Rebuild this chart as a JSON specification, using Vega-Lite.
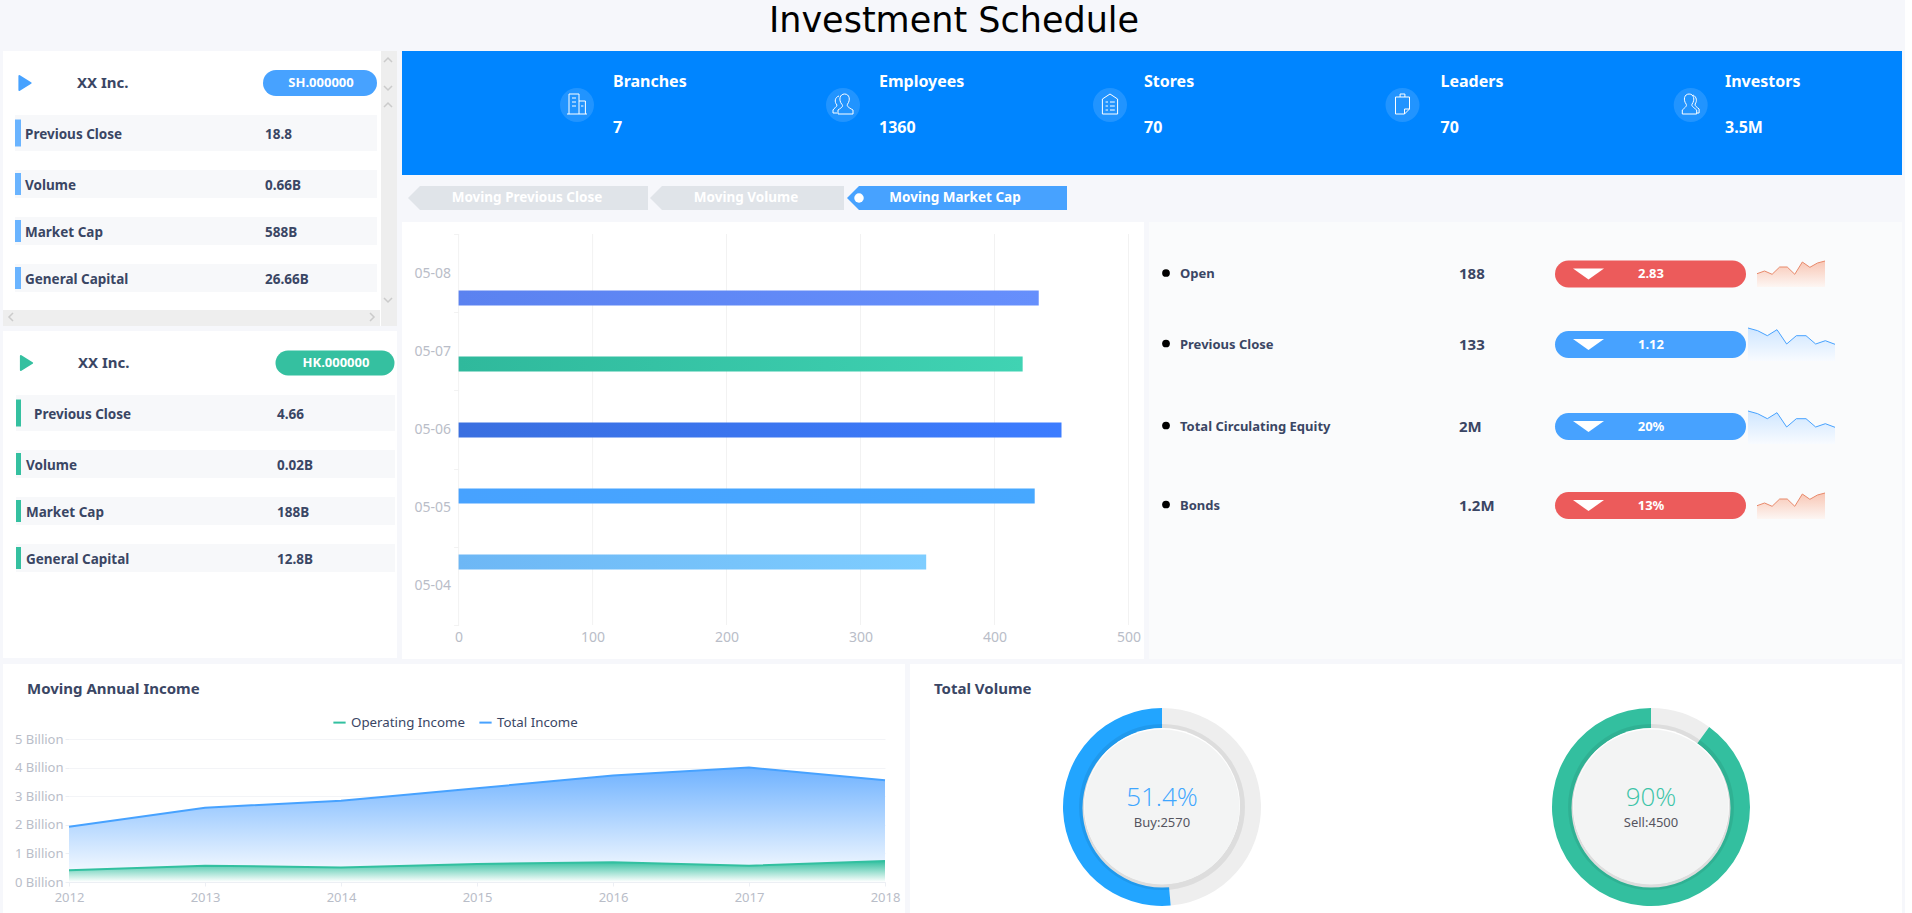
{
"$schema":"https://vega.github.io/schema/vega-lite/v6.json",
"padding":{"left":3,"top":0,"right":0,"bottom":0},
"background":"#f6f7fb",
"config":{"view":{"stroke":null},"font":"Noto Sans","text":{"font":"Noto Sans"},"axis":{"labelFont":"Noto Sans"},"legend":{"labelFont":"Noto Sans"}},
"spacing":5,
"resolve":{"scale":{"color":"independent","shape":"independent"}},
"vconcat":[
{"width":1902,"height":46,"data":{"values":[{"title":"Investment Schedule"}]},
 "mark":{"type":"text","font":"DejaVu Sans","fontSize":35,"color":"#000000","baseline":"middle","dy":-2},
 "encoding":{"text":{"field":"title"}}},
{"spacing":5,"resolve":{"scale":{"color":"independent","shape":"independent"}},"hconcat":[
 {"spacing":5,"resolve":{"scale":{"color":"independent","shape":"independent"}},"vconcat":[
  {"width":394,"height":275,"view":{"fill":"#ffffff","stroke":null},
   "data":{"values":[{"row":1,"item":"Previous Close","value":"18.8"},{"row":2,"item":"Volume","value":"0.66B"},{"row":3,"item":"Market Cap","value":"588B"},{"row":4,"item":"General Capital","value":"26.66B"}]},
   "layer":[
    {"data":{"values":[{"part":"vertical track"}]},"mark":{"type":"rect","color":"#eeeeee"},"encoding":{"x":{"datum":13,"type":"quantitative","scale":{"domain":[0,1,2,3,4,5,6,7,8,9,10,11,12,13,14,15],"range":[0,8,12,18,22,74,262,273,318,361,369,374,377,378,385,394],"nice":false,"zero":false},"axis":null},"x2":{"datum":15},"y":{"datum":-2,"type":"quantitative","scale":{"domain":[-2,-1,0,0.2,0.5,1,2,3,4,4.5,5,6,7],"range":[0,9,32,37,54,83,134,181,228,249,259,266,275],"nice":false,"zero":false},"axis":null},"y2":{"datum":7}}},
    {"data":{"values":[{"part":"horizontal track"}]},"mark":{"type":"rect","color":"#eeeeee"},"encoding":{"x":{"datum":0,"type":"quantitative","axis":null},"x2":{"datum":12},"y":{"datum":5,"type":"quantitative","axis":null},"y2":{"datum":7}}},
    {"data":{"values":[{"dir":"up","col":14,"row":-1},{"dir":"down","col":14,"row":0.2},{"dir":"up","col":14,"row":0.5},{"dir":"down","col":14,"row":4.5},{"dir":"left","col":1,"row":6},{"dir":"right","col":10,"row":6}]},
     "mark":{"type":"point","filled":false,"clip":true,"size":64,"strokeWidth":1.5,"color":"#bdbdbd"},
     "encoding":{"x":{"field":"col","type":"quantitative","axis":null},"y":{"field":"row","type":"quantitative","axis":null},"shape":{"field":"dir","type":"nominal","legend":null,"scale":{"domain":["up","down","left","right"],"range":["M-1,0.5L0,-0.5L1,0.5","M-1,-0.5L0,0.5L1,-0.5","M0.5,-1L-0.5,0L0.5,1","M-0.5,-1L0.5,0L-0.5,1"]}}}},
    {"transform":[{"filter":"datum.row==1"}],"mark":{"type":"rule","clip":true,"strokeWidth":36,"color":"#f7f8fa","yOffset":-1},"encoding":{"x":{"datum":2,"type":"quantitative","axis":null},"x2":{"datum":11},"y":{"field":"row","type":"quantitative","axis":null}}},
    {"transform":[{"filter":"datum.row>1"}],"mark":{"type":"rule","clip":true,"strokeWidth":28,"color":"#f7f8fa","yOffset":-1},"encoding":{"x":{"datum":2,"type":"quantitative","axis":null},"x2":{"datum":11},"y":{"field":"row","type":"quantitative","axis":null}}},
    {"transform":[{"filter":"datum.row==1"}],"mark":{"type":"rule","clip":true,"strokeWidth":27,"color":"#6ab4ff","yOffset":-1},"encoding":{"x":{"datum":2,"type":"quantitative","axis":null},"x2":{"datum":3},"y":{"field":"row","type":"quantitative","axis":null}}},
    {"transform":[{"filter":"datum.row>1"}],"mark":{"type":"rule","clip":true,"strokeWidth":22,"color":"#6ab4ff","yOffset":-1},"encoding":{"x":{"datum":2,"type":"quantitative","axis":null},"x2":{"datum":3},"y":{"field":"row","type":"quantitative","axis":null}}},
    {"mark":{"type":"text","align":"left","baseline":"middle","dy":1,"fontSize":13.5,"fontWeight":"bold","color":"#3a4664"},"encoding":{"x":{"datum":4,"type":"quantitative","axis":null},"y":{"field":"row","type":"quantitative","axis":null},"text":{"field":"item"}}},
    {"mark":{"type":"text","align":"left","baseline":"middle","dy":1,"fontSize":13.5,"fontWeight":"bold","color":"#3a4664"},"encoding":{"x":{"datum":6,"type":"quantitative","axis":null},"y":{"field":"row","type":"quantitative","axis":null},"text":{"field":"value"}}},
    {"data":{"values":[{"row":0,"company":"XX Inc.","code":"SH.000000"}]},"layer":[
      {"mark":{"type":"point","clip":true,"shape":"M-0.8,-1L0.8,0L-0.8,1Z","size":196,"filled":true,"opacity":1,"color":"#47a2ff","stroke":"#47a2ff","strokeWidth":2,"strokeJoin":"round"},"encoding":{"x":{"datum":4,"type":"quantitative","axis":null},"y":{"field":"row","type":"quantitative","axis":null}}},
      {"mark":{"type":"text","align":"left","baseline":"middle","fontSize":15,"fontWeight":"bold","color":"#3a4664"},"encoding":{"x":{"datum":5,"type":"quantitative","axis":null},"y":{"field":"row","type":"quantitative","axis":null},"text":{"field":"company"}}},
      {"mark":{"type":"rule","clip":true,"strokeWidth":26,"strokeCap":"round","color":"#47a2ff"},"encoding":{"x":{"datum":7,"type":"quantitative","axis":null},"x2":{"datum":9},"y":{"field":"row","type":"quantitative","axis":null}}},
      {"mark":{"type":"text","align":"center","baseline":"middle","fontSize":13,"fontWeight":"bold","color":"#ffffff"},"encoding":{"x":{"datum":8,"type":"quantitative","axis":null},"y":{"field":"row","type":"quantitative","axis":null},"text":{"field":"code"}}}
    ]}
   ]},
  {"width":394,"height":327,"view":{"fill":"#ffffff","stroke":null},
   "data":{"values":[{"row":1,"item":"Previous Close","value":"4.66"},{"row":2,"item":"Volume","value":"0.02B"},{"row":3,"item":"Market Cap","value":"188B"},{"row":4,"item":"General Capital","value":"12.8B"}]},
   "layer":[
    {"transform":[{"filter":"datum.row==1"}],"mark":{"type":"rule","clip":true,"strokeWidth":36,"color":"#f7f8fa","yOffset":-1},"encoding":{"x":{"datum":0,"type":"quantitative","scale":{"domain":[0,1,2,3,4,5,6,7,8,9,10],"range":[13,18,23,23.5,31,75,274,285,333,379,392],"nice":false,"zero":false},"axis":null},"x2":{"datum":10},"y":{"field":"row","type":"quantitative","scale":{"domain":[0,1,2,3,4],"range":[32,83,134,181,228],"nice":false,"zero":false},"axis":null}}},
    {"transform":[{"filter":"datum.row>1"}],"mark":{"type":"rule","clip":true,"strokeWidth":28,"color":"#f7f8fa","yOffset":-1},"encoding":{"x":{"datum":0,"type":"quantitative","axis":null},"x2":{"datum":10},"y":{"field":"row","type":"quantitative","axis":null}}},
    {"transform":[{"filter":"datum.row==1"}],"mark":{"type":"rule","clip":true,"strokeWidth":27,"color":"#35c0a0","yOffset":-1},"encoding":{"x":{"datum":0,"type":"quantitative","axis":null},"x2":{"datum":1},"y":{"field":"row","type":"quantitative","axis":null}}},
    {"transform":[{"filter":"datum.row>1"}],"mark":{"type":"rule","clip":true,"strokeWidth":22,"color":"#35c0a0","yOffset":-1},"encoding":{"x":{"datum":0,"type":"quantitative","axis":null},"x2":{"datum":1},"y":{"field":"row","type":"quantitative","axis":null}}},
    {"transform":[{"filter":"datum.row==1"}],"mark":{"type":"text","align":"left","baseline":"middle","dy":1,"fontSize":13.5,"fontWeight":"bold","color":"#3a4664"},"encoding":{"x":{"datum":4,"type":"quantitative","axis":null},"y":{"field":"row","type":"quantitative","axis":null},"text":{"field":"item"}}},
    {"transform":[{"filter":"datum.row>1"}],"mark":{"type":"text","align":"left","baseline":"middle","dy":1,"fontSize":13.5,"fontWeight":"bold","color":"#3a4664"},"encoding":{"x":{"datum":2,"type":"quantitative","axis":null},"y":{"field":"row","type":"quantitative","axis":null},"text":{"field":"item"}}},
    {"mark":{"type":"text","align":"left","baseline":"middle","dy":1,"fontSize":13.5,"fontWeight":"bold","color":"#3a4664"},"encoding":{"x":{"datum":6,"type":"quantitative","axis":null},"y":{"field":"row","type":"quantitative","axis":null},"text":{"field":"value"}}},
    {"data":{"values":[{"row":0,"company":"XX Inc.","code":"HK.000000"}]},"layer":[
      {"mark":{"type":"point","clip":true,"shape":"M-0.8,-1L0.8,0L-0.8,1Z","size":196,"filled":true,"opacity":1,"color":"#35c0a0","stroke":"#35c0a0","strokeWidth":2,"strokeJoin":"round"},"encoding":{"x":{"datum":3,"type":"quantitative","axis":null},"y":{"field":"row","type":"quantitative","axis":null}}},
      {"mark":{"type":"text","align":"left","baseline":"middle","fontSize":15,"fontWeight":"bold","color":"#3a4664"},"encoding":{"x":{"datum":5,"type":"quantitative","axis":null},"y":{"field":"row","type":"quantitative","axis":null},"text":{"field":"company"}}},
      {"mark":{"type":"rule","clip":true,"strokeWidth":25,"strokeCap":"round","color":"#35c0a0"},"encoding":{"x":{"datum":7,"type":"quantitative","axis":null},"x2":{"datum":9},"y":{"field":"row","type":"quantitative","axis":null}}},
      {"mark":{"type":"text","align":"center","baseline":"middle","fontSize":13,"fontWeight":"bold","color":"#ffffff"},"encoding":{"x":{"datum":8,"type":"quantitative","axis":null},"y":{"field":"row","type":"quantitative","axis":null},"text":{"field":"code"}}}
    ]}
   ]}
 ]},
 {"spacing":5,"resolve":{"scale":{"color":"independent","shape":"independent"}},"vconcat":[
 {"spacing":11,"resolve":{"scale":{"color":"independent","shape":"independent"}},"vconcat":[
  {"width":1500,"height":124,"view":{"fill":"#0085ff","stroke":null},
   "data":{"values":[
    {"kpi":"Branches","col":0,"line":"title","text":"Branches"},{"kpi":"Branches","col":0,"line":"count","text":"7"},
    {"kpi":"Employees","col":1,"line":"title","text":"Employees"},{"kpi":"Employees","col":1,"line":"count","text":"1360"},
    {"kpi":"Stores","col":2,"line":"title","text":"Stores"},{"kpi":"Stores","col":2,"line":"count","text":"70"},
    {"kpi":"Leaders","col":3,"line":"title","text":"Leaders"},{"kpi":"Leaders","col":3,"line":"count","text":"70"},
    {"kpi":"Investors","col":4,"line":"title","text":"Investors"},{"kpi":"Investors","col":4,"line":"count","text":"3.5M"}]},
   "resolve":{"scale":{"x":"independent"}},
   "layer":[
    {"transform":[{"filter":"datum.line=='title'"}],"layer":[
     {"mark":{"type":"point","filled":true,"size":1156,"color":"#ffffff","opacity":0.13},"encoding":{"x":{"field":"col","type":"quantitative","scale":{"domain":[0,1,2,3,4],"range":[175,441,708,1000.5,1288.7],"nice":false,"zero":false},"axis":null},"y":{"datum":"icon","type":"nominal","scale":{"type":"point","domain":["title","icon","count"],"range":[31,77],"padding":0},"axis":null}}},
     {"mark":{"type":"point","filled":false,"size":1600,"strokeWidth":1,"color":"#ffffff","opacity":1,"yOffset":-1},"encoding":{"x":{"field":"col","type":"quantitative","axis":null},"y":{"datum":"icon","type":"nominal","axis":null},
       "shape":{"field":"kpi","type":"nominal","legend":null,"scale":{"domain":["Branches","Employees","Stores","Leaders","Investors"],"range":[
        "M-0.5,0.5L0.5,0.5M-0.4,0.5L-0.4,-0.5L0.1,-0.5L0.1,0.5M0.1,-0.15L0.42,-0.15L0.42,0.5M-0.25,-0.3L-0.05,-0.3M-0.25,-0.1L-0.05,-0.1M-0.25,0.1L-0.05,0.1M0.2,0.1L0.32,0.1",
        "M0.08,-0.5C0.33,-0.5 0.38,-0.2 0.23,0C0.18,0.1 0.23,0.15 0.5,0.3L0.5,0.5L-0.25,0.5L-0.25,0.3C-0.02,0.15 0.03,0.1 -0.07,0C-0.22,-0.2 -0.17,-0.5 0.08,-0.5ZM-0.2,-0.4C-0.4,-0.35 -0.45,-0.1 -0.3,0.05C-0.3,0.15 -0.45,0.2 -0.5,0.3L-0.5,0.45L-0.3,0.45",
        "M-0.38,-0.25L0,-0.5L0.38,-0.25L0.38,0.5L-0.38,0.5ZM-0.22,-0.1L-0.1,-0.1M0,-0.1L0.24,-0.1M-0.22,0.1L-0.1,0.1M0,0.1L0.24,0.1M-0.22,0.3L-0.1,0.3M0,0.3L0.24,0.3",
        "M-0.35,-0.35L0.35,-0.35L0.35,0.25L0.1,0.5L-0.35,0.5ZM-0.12,-0.35L-0.12,-0.5L0.12,-0.5L0.12,-0.35M0.35,0.25L0.1,0.25L0.1,0.5",
        "M-0.08,-0.5C0.17,-0.5 0.22,-0.2 0.07,0C0.02,0.1 0.12,0.15 0.3,0.3L0.3,0.5L-0.42,0.5L-0.42,0.3C-0.25,0.15 -0.18,0.1 -0.23,0C-0.38,-0.2 -0.33,-0.5 -0.08,-0.5ZM0.12,-0.45C0.3,-0.35 0.33,-0.15 0.22,0C0.2,0.1 0.3,0.15 0.42,0.25L0.42,0.45L0.3,0.45"]}}}}
    ]},
    {"mark":{"type":"text","align":"left","baseline":"middle","fontSize":16,"fontWeight":"bold","color":"#ffffff"},
     "encoding":{"x":{"field":"col","type":"quantitative","scale":{"domain":[0,1,2,3,4],"range":[211,477,742,1038.5,1323],"nice":false,"zero":false},"axis":null},"y":{"field":"line","type":"nominal","axis":null},"text":{"field":"text"}}}
   ]},
  {"width":1500,"height":24,
   "data":{"values":[
    {"tab":"Moving Previous Close","start":0,"mid":1,"end":2,"state":"idle"},
    {"tab":"Moving Volume","start":3,"mid":4,"end":5,"state":"idle"},
    {"tab":"Moving Market Cap","start":6,"mid":7,"end":8,"state":"active"}]},
   "layer":[
    {"mark":{"type":"rect"},"encoding":{"x":{"field":"start","type":"quantitative","scale":{"domain":[0,1,2,3,4,5,6,7,8],"range":[18,125,246,260,344,442,457,553,665],"nice":false,"zero":false},"axis":null},"x2":{"field":"end"},"color":{"field":"state","type":"nominal","legend":null,"scale":{"domain":["idle","active"],"range":["#e0e4e9","#47a2ff"]}}}},
    {"mark":{"type":"point","clip":true,"filled":true,"opacity":1,"size":576,"shape":"M0,-1L-1,0L0,1Z"},"encoding":{"x":{"field":"start","type":"quantitative","axis":null},"color":{"field":"state","type":"nominal","legend":null}}},
    {"transform":[{"filter":"datum.state=='active'"}],"mark":{"type":"point","filled":true,"opacity":1,"size":90,"color":"#ffffff"},"encoding":{"x":{"field":"start","type":"quantitative","axis":null}}},
    {"mark":{"type":"text","clip":true,"fontSize":13.5,"fontWeight":"bold","color":"#ffffff","baseline":"middle"},"encoding":{"x":{"field":"mid","type":"quantitative","axis":null},"text":{"field":"tab"}}}
   ]}
 ]},
  {"spacing":5,"resolve":{"scale":{"color":"independent","shape":"independent"}},"hconcat":[
   {"width":742,"height":437,"view":{"fill":"#ffffff","stroke":null},
    "data":{"values":[{"date":"05-08","value":433},{"date":"05-07","value":421},{"date":"05-06","value":450},{"date":"05-05","value":430},{"date":"05-04","value":349}]},
    "resolve":{"scale":{"y":"independent"}},
    "layer":[
     {"data":{"values":[{"tick":0},{"tick":100},{"tick":200},{"tick":300},{"tick":400},{"tick":500}]},"mark":{"type":"rule","color":"#f2f2f2","strokeWidth":1},"encoding":{"x":{"field":"tick","type":"quantitative","scale":{"domain":[0,500],"range":[56.6,726.5],"nice":false,"zero":false},"axis":{"title":null,"values":[0,100,200,300,400,500],"offset":-34,"domain":false,"ticks":false,"labelFlush":false,"labelPadding":5,"labelFontSize":14,"labelColor":"#b9bdc8","grid":false}},"y":{"datum":0,"type":"quantitative","scale":{"domain":[0,1],"range":[12,403],"nice":false},"axis":null},"y2":{"datum":1}}},
     {"mark":{"type":"bar","opacity":0},"encoding":{
       "x":{"field":"value","type":"quantitative","title":null},
       "y":{"field":"date","type":"nominal","scale":{"type":"band","domain":["05-08","05-07","05-06","05-05","05-04"],"range":[12,403],"paddingInner":0,"paddingOuter":0},"axis":{"title":null,"orient":"left","offset":-56.6,"domain":false,"tickBand":"extent","tickSize":5,"tickColor":"#f2f2f2","labelPadding":3,"labelFontSize":14,"labelColor":"#b9bdc8"}}}},
     {"transform":[{"filter":"datum.date=='05-08'"}],"mark":{"type":"bar","size":15,"color":{"x1":0,"y1":0,"x2":1,"y2":0,"gradient":"linear","stops":[{"offset":0,"color":"#5b82f0"},{"offset":1,"color":"#668ffc"}]}},"encoding":{"x":{"field":"value","type":"quantitative","title":null},"y":{"field":"date","type":"nominal","scale":{"type":"band","domain":["05-08","05-07","05-06","05-05","05-04"],"range":[43,373],"paddingInner":0,"paddingOuter":0},"axis":null}}},
     {"transform":[{"filter":"datum.date=='05-07'"}],"mark":{"type":"bar","size":15,"color":{"x1":0,"y1":0,"x2":1,"y2":0,"gradient":"linear","stops":[{"offset":0,"color":"#2fb99c"},{"offset":1,"color":"#40d3b3"}]}},"encoding":{"x":{"field":"value","type":"quantitative","title":null},"y":{"field":"date","type":"nominal","scale":{"type":"band","domain":["05-08","05-07","05-06","05-05","05-04"],"range":[43,373],"paddingInner":0,"paddingOuter":0},"axis":null}}},
     {"transform":[{"filter":"datum.date=='05-06'"}],"mark":{"type":"bar","size":15,"color":{"x1":0,"y1":0,"x2":1,"y2":0,"gradient":"linear","stops":[{"offset":0,"color":"#3a6fe0"},{"offset":1,"color":"#3c7cff"}]}},"encoding":{"x":{"field":"value","type":"quantitative","title":null},"y":{"field":"date","type":"nominal","scale":{"type":"band","domain":["05-08","05-07","05-06","05-05","05-04"],"range":[43,373],"paddingInner":0,"paddingOuter":0},"axis":null}}},
     {"transform":[{"filter":"datum.date=='05-05'"}],"mark":{"type":"bar","size":15,"color":{"x1":0,"y1":0,"x2":1,"y2":0,"gradient":"linear","stops":[{"offset":0,"color":"#47a2ff"},{"offset":1,"color":"#47a8ff"}]}},"encoding":{"x":{"field":"value","type":"quantitative","title":null},"y":{"field":"date","type":"nominal","scale":{"type":"band","domain":["05-08","05-07","05-06","05-05","05-04"],"range":[43,373],"paddingInner":0,"paddingOuter":0},"axis":null}}},
     {"transform":[{"filter":"datum.date=='05-04'"}],"mark":{"type":"bar","size":15,"color":{"x1":0,"y1":0,"x2":1,"y2":0,"gradient":"linear","stops":[{"offset":0,"color":"#6db7f5"},{"offset":1,"color":"#7ecdff"}]}},"encoding":{"x":{"field":"value","type":"quantitative","title":null},"y":{"field":"date","type":"nominal","scale":{"type":"band","domain":["05-08","05-07","05-06","05-05","05-04"],"range":[43,373],"paddingInner":0,"paddingOuter":0},"axis":null}}}
    ]},
   {"width":753,"height":437,"view":{"fill":"#fafbfc","stroke":null},
    "resolve":{"scale":{"x":"independent","y":"independent"}},
    "layer":[
     {"data":{"values":[{"row":0,"item":"Open","value":"188","change":"2.83","tone":"red"},{"row":1,"item":"Previous Close","value":"133","change":"1.12","tone":"blue"},{"row":2,"item":"Total Circulating Equity","value":"2M","change":"20%","tone":"blue"},{"row":3,"item":"Bonds","value":"1.2M","change":"13%","tone":"red"}]},
      "layer":[
      {"mark":{"type":"point","filled":true,"size":60,"color":"#000000","opacity":1,"yOffset":-1},"encoding":{"x":{"datum":0,"type":"quantitative","scale":{"domain":[0,1,2,3,4,5,6],"range":[17,31,310,419.5,439.5,502,583.5],"nice":false,"zero":false},"axis":null},"y":{"field":"row","type":"quantitative","scale":{"domain":[0,1,2,3],"range":[52,122.5,204.5,283.5],"nice":false,"zero":false},"axis":null}}},
      {"mark":{"type":"text","align":"left","baseline":"middle","fontSize":13,"fontWeight":"bold","color":"#3a4664"},"encoding":{"x":{"datum":1,"type":"quantitative","axis":null},"y":{"field":"row","type":"quantitative","axis":null},"text":{"field":"item"}}},
      {"mark":{"type":"text","align":"left","baseline":"middle","fontSize":15,"fontWeight":"bold","color":"#3a4664"},"encoding":{"x":{"datum":2,"type":"quantitative","axis":null},"y":{"field":"row","type":"quantitative","axis":null},"text":{"field":"value"}}},
      {"mark":{"type":"rule","clip":true,"strokeWidth":27,"strokeCap":"round"},"encoding":{"x":{"datum":3,"type":"quantitative","axis":null},"x2":{"datum":6},"y":{"field":"row","type":"quantitative","axis":null},"color":{"field":"tone","type":"nominal","legend":null,"scale":{"domain":["red","blue"],"range":["#ec5b5b","#47a2ff"]}}}},
      {"mark":{"type":"point","filled":true,"opacity":1,"size":961,"shape":"M-1,-0.36L1,-0.36L0,0.36Z","color":"#ffffff"},"encoding":{"x":{"datum":4,"type":"quantitative","axis":null},"y":{"field":"row","type":"quantitative","axis":null}}},
      {"mark":{"type":"text","align":"center","baseline":"middle","fontSize":13,"fontWeight":"bold","color":"#ffffff"},"encoding":{"x":{"datum":5,"type":"quantitative","axis":null},"y":{"field":"row","type":"quantitative","axis":null},"text":{"field":"change"}}}
     ]},
     {"data":{"name":"redSpark","values":[{"t":0,"v":13.3},{"t":1,"v":16},{"t":2,"v":12.7},{"t":3,"v":20},{"t":4,"v":20},{"t":5,"v":12.7},{"t":6,"v":25},{"t":7,"v":19.7},{"t":8,"v":24},{"t":9,"v":26}]},
      "encoding":{"x":{"field":"t","type":"quantitative","scale":{"domain":[0,9],"range":[608,676],"nice":false,"zero":false},"axis":null},"y":{"field":"v","type":"quantitative","scale":{"domain":[0,26],"range":[65,39],"nice":false},"axis":null}},
      "layer":[{"mark":{"type":"area","color":{"x1":0,"y1":0,"x2":0,"y2":1,"gradient":"linear","stops":[{"offset":0,"color":"#f8c6b4"},{"offset":1,"color":"#fdf6f3"}]}}},{"mark":{"type":"line","color":"#e8896b","strokeWidth":1}}]},
     {"data":{"name":"blueSpark","values":[{"t":0,"v":33},{"t":1,"v":30.3},{"t":2,"v":25.3},{"t":3,"v":31.3},{"t":4,"v":17},{"t":5,"v":25.3},{"t":6,"v":25.3},{"t":7,"v":17},{"t":8,"v":20.3},{"t":9,"v":16.7}]},
      "encoding":{"x":{"field":"t","type":"quantitative","scale":{"domain":[0,9],"range":[599,686],"nice":false,"zero":false},"axis":null},"y":{"field":"v","type":"quantitative","scale":{"domain":[0,33],"range":[139,106],"nice":false},"axis":null}},
      "layer":[{"mark":{"type":"area","color":{"x1":0,"y1":0,"x2":0,"y2":1,"gradient":"linear","stops":[{"offset":0,"color":"#cfe6ff"},{"offset":1,"color":"#f8fbff"}]}}},{"mark":{"type":"line","color":"#47a2ff","strokeWidth":1}}]},
     {"data":{"name":"blueSpark2","values":[{"t":0,"v":33},{"t":1,"v":30.3},{"t":2,"v":25.3},{"t":3,"v":31.3},{"t":4,"v":17},{"t":5,"v":25.3},{"t":6,"v":25.3},{"t":7,"v":17},{"t":8,"v":20.3},{"t":9,"v":16.7}]},
      "encoding":{"x":{"field":"t","type":"quantitative","scale":{"domain":[0,9],"range":[599,686],"nice":false,"zero":false},"axis":null},"y":{"field":"v","type":"quantitative","scale":{"domain":[0,33],"range":[222,189],"nice":false},"axis":null}},
      "layer":[{"mark":{"type":"area","color":{"x1":0,"y1":0,"x2":0,"y2":1,"gradient":"linear","stops":[{"offset":0,"color":"#cfe6ff"},{"offset":1,"color":"#f8fbff"}]}}},{"mark":{"type":"line","color":"#47a2ff","strokeWidth":1}}]},
     {"data":{"name":"redSpark2","values":[{"t":0,"v":13.3},{"t":1,"v":16},{"t":2,"v":12.7},{"t":3,"v":20},{"t":4,"v":20},{"t":5,"v":12.7},{"t":6,"v":25},{"t":7,"v":19.7},{"t":8,"v":24},{"t":9,"v":26}]},
      "encoding":{"x":{"field":"t","type":"quantitative","scale":{"domain":[0,9],"range":[608,676],"nice":false,"zero":false},"axis":null},"y":{"field":"v","type":"quantitative","scale":{"domain":[0,26],"range":[297,271],"nice":false},"axis":null}},
      "layer":[{"mark":{"type":"area","color":{"x1":0,"y1":0,"x2":0,"y2":1,"gradient":"linear","stops":[{"offset":0,"color":"#f8c6b4"},{"offset":1,"color":"#fdf6f3"}]}}},{"mark":{"type":"line","color":"#e8896b","strokeWidth":1}}]}
    ]}
  ]}
 ]}
]},
{"spacing":5,"resolve":{"scale":{"color":"independent","shape":"independent"}},"hconcat":[
 {"width":902,"height":250,"view":{"fill":"#ffffff","stroke":null},
  "data":{"values":[
   {"year":"2012","series":"Operating Income","value":0.41},{"year":"2013","series":"Operating Income","value":0.57},{"year":"2014","series":"Operating Income","value":0.51},{"year":"2015","series":"Operating Income","value":0.63},{"year":"2016","series":"Operating Income","value":0.69},{"year":"2017","series":"Operating Income","value":0.57},{"year":"2018","series":"Operating Income","value":0.73},
   {"year":"2012","series":"Total Income","value":1.93},{"year":"2013","series":"Total Income","value":2.6},{"year":"2014","series":"Total Income","value":2.84},{"year":"2015","series":"Total Income","value":3.28},{"year":"2016","series":"Total Income","value":3.72},{"year":"2017","series":"Total Income","value":4.0},{"year":"2018","series":"Total Income","value":3.56}]},
  "layer":[
   {"transform":[{"filter":"datum.series=='Total Income'"}],"mark":{"type":"area","color":{"x1":0,"y1":0,"x2":0,"y2":1,"gradient":"linear","stops":[{"offset":0,"color":"#6fb2ff"},{"offset":1,"color":"#ffffff"}]}},
    "encoding":{"x":{"field":"year","type":"ordinal","scale":{"type":"point","padding":0,"range":[66,882]},"axis":{"title":null,"labelAngle":0,"offset":-32,"domainColor":"#eceff4","tickColor":"#eceff4","tickSize":4,"labelPadding":5,"labelFontSize":13,"labelColor":"#b9bdc8"}},"y":{"field":"value","type":"quantitative","scale":{"domain":[0,5],"range":[218,75],"nice":false},"axis":{"title":null,"values":[0,1,2,3,4,5],"labelExpr":"datum.value+' Billion'","offset":-66,"domain":false,"tickColor":"#eceff4","tickSize":4,"labelPadding":2,"labelFontSize":13,"labelColor":"#b9bdc8","grid":true,"gridColor":"#f3f4f7"}}}},
   {"transform":[{"filter":"datum.series=='Operating Income'"}],"mark":{"type":"area","color":{"x1":0,"y1":0,"x2":0,"y2":1,"gradient":"linear","stops":[{"offset":0,"color":"#33bf9f"},{"offset":1,"color":"#ffffff"}]}},
    "encoding":{"x":{"field":"year","type":"ordinal"},"y":{"field":"value","type":"quantitative"}}},
   {"mark":{"type":"line","strokeWidth":2},"encoding":{"x":{"field":"year","type":"ordinal"},"y":{"field":"value","type":"quantitative"},"color":{"field":"series","type":"nominal","scale":{"domain":["Operating Income","Total Income"],"range":["#32c0a0","#47a2ff"]},"legend":{"title":null,"orient":"none","legendX":329,"legendY":51,"direction":"horizontal","labelFontSize":13.3,"labelColor":"#3a4664","symbolType":"stroke","symbolSize":150,"symbolStrokeWidth":2,"columnPadding":10}}}},
   {"data":{"values":[{"heading":"Moving Annual Income"}]},"mark":{"type":"text","align":"left","baseline":"middle","fontSize":15,"fontWeight":"bold","color":"#3a4664","dx":-42},"encoding":{"x":{"datum":"2012","type":"ordinal"},"y":{"datum":6.75,"type":"quantitative"},"text":{"field":"heading"}}}
  ]},
 {"width":992,"height":250,"view":{"fill":"#ffffff","stroke":null},
  "data":{"values":[{"donut":"Buy","segment":"Rest","from":0,"to":48.6},{"donut":"Buy","segment":"Buy","from":48.6,"to":100},{"donut":"Sell","segment":"Rest","from":0,"to":10},{"donut":"Sell","segment":"Sell","from":10,"to":100}]},
  "layer":[
   {"mark":{"type":"arc","radius":99,"radius2":0},"encoding":{
     "x":{"field":"donut","type":"nominal","scale":{"type":"point","domain":["Buy","Sell"],"range":[252,741],"padding":0},"axis":null},
     "y":{"field":"donut","type":"nominal","scale":{"type":"point","domain":["Buy","Sell"],"range":[143,143],"padding":0},"axis":null},
     "theta":{"field":"from","type":"quantitative","scale":{"domain":[0,100],"range":[0,6.2832]}},"theta2":{"field":"to"},
     "color":{"field":"segment","type":"nominal","legend":null,"scale":{"domain":["Buy","Sell","Rest"],"range":["#22a5ff","#33bf9f","#eeeeee"]}}}},
   {"data":{"values":[{"donut":"Buy","pct":"51.4%","caption":"Buy:2570"},{"donut":"Sell","pct":"90%","caption":"Sell:4500"}]},
    "encoding":{"x":{"field":"donut","type":"nominal","axis":null},"y":{"field":"donut","type":"nominal","axis":null}},
    "layer":[
     {"mark":{"type":"point","filled":true,"opacity":0.07,"size":27556,"color":"#000000"}},
     {"mark":{"type":"point","filled":true,"opacity":1,"size":25281,"color":"#dddddd","yOffset":1}},
     {"mark":{"type":"point","filled":true,"opacity":1,"size":24336,"color":"#ffffff","yOffset":-1}},
     {"mark":{"type":"point","filled":true,"opacity":1,"size":24025,"color":"#f3f4f4"}},
     {"mark":{"type":"text","baseline":"middle","fontSize":26,"fontWeight":300,"dy":-9,"font":"Open Sans","color":"#3ea6ff"},"transform":[{"filter":"datum.donut=='Buy'"}],"encoding":{"text":{"field":"pct"}}},
     {"mark":{"type":"text","baseline":"middle","fontSize":26,"fontWeight":300,"dy":-9,"font":"Open Sans","color":"#3cc4a8"},"transform":[{"filter":"datum.donut=='Sell'"}],"encoding":{"text":{"field":"pct"}}},
     {"mark":{"type":"text","baseline":"middle","fontSize":13,"dy":16,"color":"#555560"},"encoding":{"text":{"field":"caption"}}}
    ]},
   {"data":{"values":[{"heading":"Total Volume"}]},"mark":{"type":"text","align":"left","baseline":"middle","fontSize":15,"fontWeight":"bold","color":"#3a4664","dx":-228,"dy":-118},"encoding":{"x":{"datum":"Buy","type":"nominal","axis":null},"y":{"datum":"Buy","type":"nominal","axis":null},"text":{"field":"heading"}}}
  ]}
]}
]
}
